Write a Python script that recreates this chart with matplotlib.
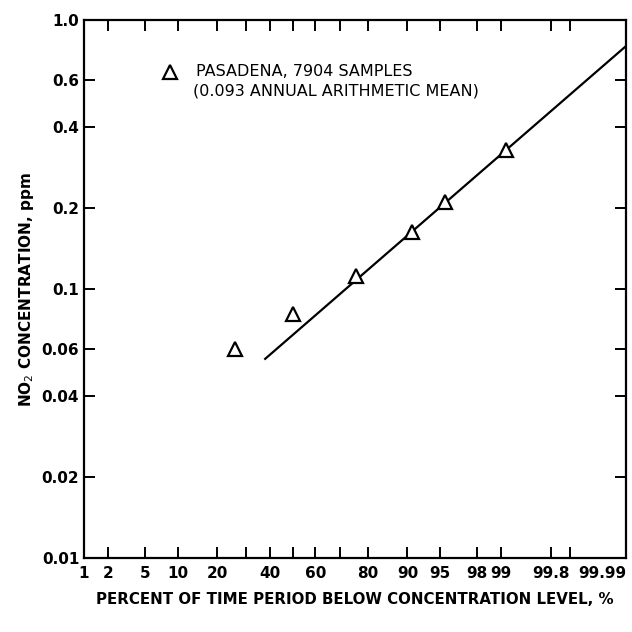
from statistics import NormalDist
import numpy as np
import matplotlib
matplotlib.use("Agg")
import matplotlib.pyplot as plt

# data (percent of time below level, ppm)
pct_obs = [26.0, 50.0, 76.2, 90.8, 95.5, 99.14]
conc_obs = [0.060, 0.081, 0.112, 0.163, 0.211, 0.330]

# fitted line end points
pct_fit = [38.0, 99.99]
conc_fit = [0.055, 0.80]

x_ticks = [1, 2, 5, 10, 20, 30, 40, 50, 60, 70, 80, 90, 95, 98, 99, 99.8, 99.9, 99.99]
x_labels = ["1", "2", "5", "10", "20", "", "40", "", "60", "", "80", "90", "95",
            "98", "99", "99.8", "", "99.99"]
y_ticks = [0.01, 0.02, 0.04, 0.06, 0.1, 0.2, 0.4, 0.6, 1.0]
y_labels = ["0.01", "0.02", "0.04", "0.06", "0.1", "0.2", "0.4", "0.6", "1.0"]

nd = NormalDist()
_ppf = np.vectorize(nd.inv_cdf, otypes=[float])
_cdf = np.vectorize(nd.cdf, otypes=[float])


def prob_fwd(p):
    p = np.clip(np.asarray(p, dtype=float) / 100.0, 1e-9, 1 - 1e-9)
    return _ppf(p)


def prob_inv(z):
    return _cdf(np.asarray(z, dtype=float)) * 100.0


plt.rcParams['font.family'] = ['DejaVu Sans']

fig = plt.figure(figsize=(6.32, 6.32), dpi=100)
ax = fig.add_axes([84 / 632, 74 / 632, 542 / 632, 538 / 632])

ax.set_xscale('function', functions=(prob_fwd, prob_inv))
ax.set_yscale('log')
ax.set_xlim(1, 99.99)
ax.set_ylim(0.01, 1.0)

ax.plot(pct_fit, conc_fit, color='black', lw=1.6)
ax.plot(pct_obs, conc_obs, ls='none', marker='^', ms=10, mfc='white',
        mec='black', mew=1.6)

ax.set_xticks(x_ticks)
ax.set_xticklabels(x_labels)
ax.set_yticks(y_ticks)
ax.set_yticklabels(y_labels)
ax.xaxis.set_minor_locator(matplotlib.ticker.NullLocator())
ax.yaxis.set_minor_locator(matplotlib.ticker.NullLocator())

ax.tick_params(direction='in', length=8, width=1.4, top=True, right=True,
               labelsize=11)
ax.tick_params(axis='x', pad=6)
for lbl in ax.get_xticklabels() + ax.get_yticklabels():
    lbl.set_fontweight('bold')
ax.get_xticklabels()[-1].set_horizontalalignment('right')
for s in ax.spines.values():
    s.set_linewidth(1.6)

ax.set_xlabel("PERCENT OF TIME PERIOD BELOW CONCENTRATION LEVEL, %",
              fontsize=10.8, fontweight='bold', labelpad=8)
ax.set_ylabel("NO$_2$ CONCENTRATION, ppm", fontsize=11, fontweight='bold',
              labelpad=4)

# key
ax.plot([0.158], [0.904], transform=ax.transAxes, ls='none', marker='^',
        ms=10, mfc='white', mec='black', mew=1.6, clip_on=False)
ax.text(0.206, 0.904, "PASADENA, 7904 SAMPLES", transform=ax.transAxes,
        fontsize=11.5, va='center', ha='left')
ax.text(0.202, 0.868, "(0.093 ANNUAL ARITHMETIC MEAN)", transform=ax.transAxes,
        fontsize=11.5, va='center', ha='left')

fig.savefig("out.png", dpi=100)
